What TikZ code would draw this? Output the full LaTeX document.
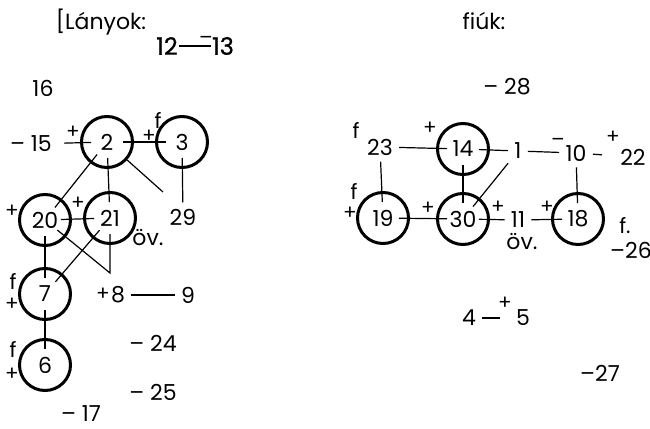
\documentclass[tikz,border=0pt]{standalone}
\usepackage{fontspec}
\setmainfont{Poppins}
\newfontfamily\semib{Poppins}[FakeBold=0.7]
\tikzset{
    pers/.style={circle,draw,line width=1.5pt,minimum size=25.5pt,inner sep=0pt,outer sep=-4.75pt,font=\fontsize{11}{12}\selectfont},
    num/.style={inner sep=3pt,font=\fontsize{11}{12}\selectfont},
    big/.style={inner sep=0.5pt,font=\fontsize{12}{13}\semib},
    sgn/.style={inner sep=0pt,font=\fontsize{10}{11}\selectfont},
    eff/.style={inner sep=0pt,font=\fontsize{10.5}{11}\selectfont},
    tie/.style={line width=0.6pt}
}
\begin{document}
\begin{tikzpicture}[x=0.5pt,y=-0.5pt]
    \useasboundingbox[fill=white] (0,0) rectangle (650,429);
    \node[num] (lany) at (101,22) {[Lányok:};
    \node[big] (t12) at (167,46) {12};
    \node[big] (t13) at (223,46) {13};
    \node[sgn] (m13) at (206,40) {–};
    \draw[tie] (t12) -- (t13);

    \node[num] (t16) at (43,88) {16};
    \node[num] (t15) at (31,144) {– 15};
    \node[pers] (n2) at (107,142) {2};
    \node[pers] (n3) at (182,142) {3};
    \node[sgn] (p2) at (73,132) {+};
    \node[sgn] (p3) at (149,136) {+};
    \node[eff] (f3) at (158,120) {f};
    \coordinate (c2) at (163,192);
    \node[num] (t29) at (183,217) {29};
    \node[pers] (n20) at (45,220) {20};
    \node[pers] (n21) at (110,218) {21};
    \node[sgn] (p20) at (12,211) {+};
    \node[sgn] (p21) at (78,203) {+};
    \node[num] (ov21) at (148,238) {öv.};
    \coordinate (c8) at (110,273);
    \node[pers] (n7) at (45,294) {7};
    \node[eff] (f7) at (13,281) {f};
    \node[sgn] (p7) at (12,304) {+};
    \node[sgn] (p8) at (103,294) {+};
    \node[num] (t8) at (118,295) {8};
    \node[num] (t9) at (188,295) {9};
    \node[pers] (n6) at (45,365) {6};
    \node[eff] (f6) at (13,349) {f};
    \node[sgn] (p6) at (12,374) {+};
    \node[num] (t24) at (153,343) {– 24};
    \node[num] (t25) at (153,392) {– 25};
    \node[num,inner sep=0pt] (t17) at (81,414) {– 17};

    \draw[tie,shorten <=3pt] (t15) -- (n2);
    \draw[tie] (n2) -- (n3);
    \draw[tie] (n2) -- (n21);
    \draw[tie] (n2) -- (n20);
    \draw[tie,shorten <=13.5pt] (n2.center) -- (c2);
    \draw[tie] (n3) -- (t29);
    \draw[tie] (n20) -- (n21);
    \draw[tie] (n20) -- (c8) -- (n21);
    \draw[tie] (n20) -- (n7);
    \draw[tie] (n21) -- (n7);
    \draw[tie] (n7) -- (n6);
    \draw[tie] (t8) -- (t9);

    \node[num] (fiuk) at (484,21) {fiúk:};
    \node[num] (t28) at (507,87) {– 28};
    \node[num] (t23) at (380,147) {23};
    \node[pers] (n14) at (463,149) {14};
    \node[num] (t1) at (518,151) {1};
    \node[num] (t10) at (576,153) {10};
    \node[num] (t22) at (633,157) {22};
    \node[pers] (n19) at (383,218) {19};
    \node[pers] (n30) at (463,219) {30};
    \node[num] (t11) at (518,220) {11};
    \node[pers] (n18) at (578,219) {18};
    \node[num] (ov11) at (522,242) {öv.};
    \node[eff] (f23) at (356,130) {f};
    \node[sgn] (p14) at (430,128) {+};
    \node[sgn] (m10) at (558,142) {–};
    \node[sgn] (p22) at (613,137) {+};
    \node[eff] (f19) at (354,191) {f};
    \node[sgn] (p19) at (350,213) {+};
    \node[sgn] (p30) at (428,208) {+};
    \node[sgn] (p11) at (498,207) {+};
    \node[sgn] (p18) at (547,207) {+};
    \node[eff] (f18) at (625,226) {f.};
    \node[num,inner sep=1pt] (t26) at (631,250) {–26};
    \node[num] (t4) at (469,318) {4};
    \node[num] (t5) at (523,318) {5};
    \node[sgn] (p5) at (505,303) {+};
    \node[num] (t27) at (600,373) {–27};

    \draw[tie] (t23) -- (n14);
    \draw[tie] (n14) -- (t1);
    \draw[tie] (t1) -- (t10);
    \draw[tie,shorten >=6pt] (t10) -- (t22);
    \draw[tie] (t10) -- (n18);
    \draw[tie] (t23) -- (n19);
    \draw[tie] (n14) -- (n30);
    \draw[tie] (t1) -- (n30);
    \draw[tie] (n19) -- (n30);
    \draw[tie] (n30) -- (t11);
    \draw[tie] (t11) -- (n18);
    \draw[tie,shorten >=5pt] (t4) -- (t5);
\end{tikzpicture}
\end{document}
